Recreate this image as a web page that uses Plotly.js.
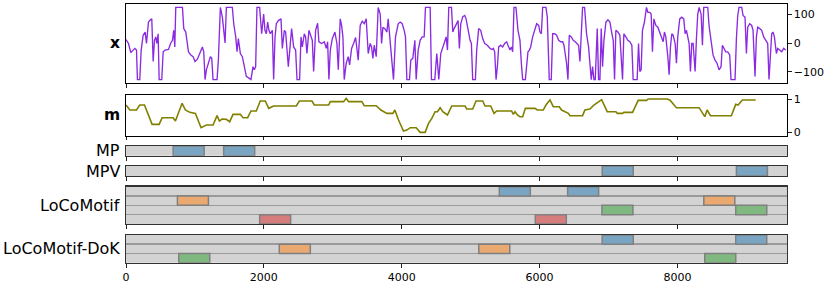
<!DOCTYPE html>
<html>
<head>
<meta charset="utf-8">
<script src="https://cdn.plot.ly/plotly-3.0.1.min.js"></script>
<style>html,body{margin:0;padding:0;background:#fff;}#chart{width:830px;height:286px;}</style>
</head>
<body>
<div id="chart"></div>
<script>
// ---- signal x ----
const sigX = [0,36,70,94,128,152,166,200,220,249,278,297,326,355,374,394,413,432,447,466,481,519,539,568,616,650,674,693,708,722,819,838,867,906,940,974,1002,1036,1070,1108,1128,1147,1166,1195,1224,1244,1263,1321,1340,1369,1398,1437,1456,1543,1563,1592,1611,1630,1659,1688,1717,1746,1784,1813,1843,1862,1881,1900,1939,1968,1997,2016,2036,2055,2074,2094,2123,2142,2162,2181,2210,2249,2268,2297,2316,2336,
2355,2403,2432,2461,2481,2519,2539,2558,2587,2606,2625,2654,2683,2703,2722,2751,2780,2799,2838,2877,2906,2925,2944,2964,2993,3031,3060,3080,3108,3128,3147,3166,3195,3224,3244,3273,3302,3331,3350,3369,3398,3427,3456,3485,3514,3543,3563,3582,3601,3630,3659,3688,3708,3727,3756,3785,3804,3823,3852,3881,3910,3949,3978,4007,4036,4055,4075,4113,4132,4161,4191,4210,4239,4268,4297,4326,4345,4413,4432,4480,4509,4538,4567,4596,4625,4645,4664,4683,4722,4741,
4760,4799,4818,4837,4857,4886,4915,4934,4963,4992,5011,5030,5069,5088,5117,5146,5175,5204,5243,5282,5311,5330,5349,5369,5388,5407,5436,5465,5494,5523,5542,5571,5591,5610,5629,5658,5687,5716,5736,5755,5794,5813,5832,5852,5871,5900,5929,5958,5987,6006,6026,6045,6093,6112,6141,6170,6190,6219,6248,6277,6306,6335,6354,6373,6392,6412,6431,6460,6489,6518,6547,6566,6586,6605,6624,6653,6682,6711,6731,6750,6769,6789,6808,6837,6856,6876,6895,6914,6934,6963,6992,7021,7050,7069,7088,7107,7136,
7165,7204,7223,7252,7281,7310,7339,7358,7416,7436,7455,7474,7493,7522,7551,7571,7600,7619,7638,7658,7687,7716,7745,7774,7793,7812,7832,7861,7880,7899,7919,7938,7967,7986,8005,8034,8063,8092,8112,8131,8150,8170,8189,8208,8228,8257,8276,8295,8315,8344,8363,8382,8440,8459,8488,8517,8546,8575,8604,8633,8653,8672,8701,8730,8759,8778,8836,8856,8875,8894,8933,8952,8981,9001,9020,9049,9078,9097,9126,9146,9165,9194,9223,9252,9281,9310,9329,9349,9368,9387,9407,9436,9455,9484,9513,9542,9571];
const sigY = [13,-1,-33,-26,-18,-24,-127,-127,-24,28,39,-1,74,82,85,-64,10,22,-1,33,-127,-127,-30,-24,-22,1,10,45,-13,125,125,51,39,-30,-41,-47,-64,-56,-36,-13,-30,-127,-93,-70,-47,-53,-127,-127,-59,125,91,1,125,125,68,22,-30,16,-36,-47,-76,-116,-122,-127,-82,-93,-82,125,125,33,102,45,33,74,45,33,45,-127,22,68,79,85,-18,45,39,-13,
-82,51,-13,-24,-127,-127,22,-13,33,22,-36,45,22,10,-99,45,70,5,-1,5,-18,5,-127,-24,16,39,-1,-93,85,62,22,-127,-70,-47,-76,-18,-1,20,-18,-59,62,77,68,85,-36,-1,-13,-53,-7,-47,125,102,-1,56,51,39,85,33,-24,-127,22,68,74,68,45,22,-127,-127,-59,-53,10,-127,-24,10,22,22,125,125,-127,-127,-36,-127,-36,-13,5,22,-24,125,125,39,
51,68,79,-18,68,93,97,85,39,10,-1,-127,-127,-24,51,45,16,-1,-7,-18,-22,-18,-30,-127,-82,-13,-7,-13,-1,5,-7,-24,-13,-30,125,125,45,10,-70,-127,-127,-59,-30,-24,-13,22,45,68,62,39,33,125,125,91,-127,-127,33,33,28,10,5,5,-7,-36,-70,-127,28,22,10,5,-1,-7,-64,33,125,125,33,-13,-59,-127,-82,-127,-127,51,-127,-127,51,-82,10,74,82,74,33,10,-127,45,39,
28,-127,33,22,10,5,-7,-127,-127,-1,-99,-93,45,74,125,108,108,102,-30,85,62,56,39,22,5,39,22,-47,-110,-13,33,28,-1,-70,22,85,91,85,33,45,22,-1,-99,-1,-1,-99,16,102,125,102,-7,125,125,62,10,-41,-59,-70,-93,-82,-7,-18,-30,-30,-41,-127,-127,16,97,125,125,97,91,-36,56,68,62,45,-116,22,56,51,45,22,10,-1,-127,-24,33,39,22,-36,-18,-24,-30,-18,-24];

// ---- m ----
const mX = [0,56,152,200,268,379,481,524,684,717,814,862,925,1007,1089,1166,1263,1321,1355,1393,1456,1504,1553,1659,1698,1765,1813,1890,1948,2021,2070,2142,2471,2515,2698,2732,2940,2964,3157,3195,3229,3422,3456,3630,3698,3785,3872,3901,3954,4026,4075,4123,4210,4268,4340,4389,4437,4485,4519,4558,4596,4664,4726,4919,4943,5030,5079,5175,5209,5291,5340,5378,5595,5620,5644,5678,5716,5755,5794,5934,5968,6054,6093,6151,6199,6286,6320,6368,6417,6441,6624,6658,6731,6779,6827,6866,6900,6982,7107,7127,7204,7223,7349,7431,7552,7576,7851,7890,7986,8315,8349,8397,8431,8480,8783,8846,8880,8943,9136];
const mY = [0.82,0.67,0.67,0.82,0.82,0.24,0.24,0.44,0.44,0.34,0.87,0.67,0.60,0.57,0.14,0.22,0.22,0.50,0.34,0.40,0.39,0.32,0.54,0.54,0.44,0.44,0.64,0.64,0.94,0.94,0.72,0.79,0.79,0.94,0.94,0.82,0.82,0.92,0.92,1.02,0.92,0.92,0.80,0.80,0.67,0.57,0.57,0.67,0.37,0.04,0.07,0.14,0.14,0.0,0.0,0.27,0.42,0.62,0.62,0.74,0.62,0.52,0.79,0.79,0.70,0.70,0.94,0.94,0.79,0.79,0.57,0.64,0.64,0.54,0.62,0.52,0.47,0.47,0.72,0.72,0.67,0.67,0.82,0.97,0.77,0.77,0.67,0.62,0.57,0.50,0.50,0.67,0.70,0.80,0.87,0.94,0.98,0.62,0.62,0.57,0.57,0.60,0.60,0.96,0.96,1.0,1.0,0.97,0.74,0.74,0.62,0.47,0.67,0.50,0.50,0.84,0.82,0.97,0.97];

// ---- motifs ----
const motifLength = 450;
const rowColors = ['#79a5c3', '#e9a970', '#80b980', '#d57d7d'];
const mpStarts = [684, 1417];          const mpRows = [0, 0];
const mpvStarts = [6909, 8856];        const mpvRows = [0, 0];
const lcStarts = [5416, 6407, 746, 8383, 6905, 8846, 1939, 5938];
const lcRows   = [0, 0, 1, 1, 2, 2, 3, 3];
const dokStarts = [6909, 8846, 2224, 5118, 765, 8397];
const dokRows   = [0, 0, 1, 1, 2, 2];

const xTicks = [0, 2000, 4000, 6000, 8000];
const labels = ['<b>x</b>', '<b>m</b>', 'MP', 'MPV', 'LoCoMotif', 'LoCoMotif-DoK'];

const W = 830, H = 286;
const xDom = [126 / W, 787 / W];
const pix = [[4, 83], [95, 135.7], [146, 155.7], [166, 176], [186.7, 224], [235, 262.7]];
const doms = pix.map(p => [1 - p[1] / H, 1 - p[0] / H]);

function barTrace(starts, rows, ax) {
  return {
    type: 'bar', orientation: 'h',
    base: starts, x: starts.map(() => motifLength), y: rows,
    width: rows.map(() => 1),
    marker: { color: rows.map(r => rowColors[r]), line: { color: '#808080', width: 1.5 } },
    xaxis: 'x' + ax, yaxis: 'y' + ax, showlegend: false, hoverinfo: 'skip'
  };
}

const data = [
  { type: 'scatter', mode: 'lines', x: sigX, y: sigY, line: { color: '#8a2be2', width: 1.35 }, xaxis: 'x', yaxis: 'y', showlegend: false },
  { type: 'scatter', mode: 'lines', x: mX, y: mY, line: { color: '#808000', width: 1.6 }, xaxis: 'x2', yaxis: 'y2', showlegend: false },
  barTrace(mpStarts, mpRows, 3),
  barTrace(mpvStarts, mpvRows, 4),
  barTrace(lcStarts, lcRows, 5),
  barTrace(dokStarts, dokRows, 6)
];

const font = { family: 'DejaVu Sans', size: 11, color: '#000' };
const layout = {
  width: W, height: H, margin: { l: 0, r: 0, t: 0, b: 0 },
  paper_bgcolor: '#fff', plot_bgcolor: '#fff', font: font,
  barmode: 'overlay', showlegend: false,
  shapes: [], annotations: []
};

const nRows = [1, 1, 1, 1, 4, 3];
const yRanges = [[-139, 137], [-0.1, 1.12]];
for (let i = 0; i < 6; i++) {
  const s = i === 0 ? '' : String(i + 1);
  const isBar = i >= 2;
  layout['xaxis' + s] = {
    domain: xDom, anchor: 'y' + s, range: [0, 9590],
    tickmode: 'array', tickvals: xTicks, ticktext: xTicks.map(String),
    ticks: 'outside', ticklen: 3.5, tickwidth: 1, tickcolor: '#222',
    showticklabels: i === 5, tickfont: font,
    showgrid: false, zeroline: false,
    showline: true, mirror: true, linecolor: isBar ? '#333' : '#000', linewidth: isBar ? 1.3 : 1
  };
  const ya = {
    domain: doms[i], anchor: 'x' + s, zeroline: false,
    showline: true, mirror: true, linecolor: isBar ? '#333' : '#000', linewidth: isBar ? 1.3 : 1
  };
  if (!isBar) {
    Object.assign(ya, {
      side: 'right', range: yRanges[i], ticks: 'outside', ticklen: 3.5, tickcolor: '#222',
      tickmode: 'array', tickvals: i === 0 ? [-100, 0, 100] : [0, 1],
      ticktext: i === 0 ? ['\u2212100', '0', '100'] : ['0', '1'],
      tickfont: font, showgrid: false
    });
  } else {
    const n = nRows[i];
    const gv = [];
    for (let k = 0; k < n - 1; k++) gv.push(k + 0.5);
    Object.assign(ya, {
      range: [n - 0.5, -0.5], ticks: '', showticklabels: false,
      tickmode: 'array', tickvals: gv, showgrid: gv.length > 0,
      gridcolor: '#9a9a9a', gridwidth: 1.5
    });
    layout.shapes.push({
      type: 'rect', xref: 'x' + s + ' domain', yref: 'y' + s + ' domain',
      x0: 0, x1: 1, y0: 0, y1: 1, fillcolor: '#d3d3d3', line: { width: 0 }, layer: 'below'
    });
  }
  layout['yaxis' + s] = ya;
  const yc = (doms[i][0] + doms[i][1]) / 2;
  layout.annotations.push({
    xref: 'paper', yref: 'paper', x: 122 / W, y: yc, xanchor: 'right', yanchor: 'middle',
    text: labels[i], showarrow: false,
    font: { family: 'DejaVu Sans', size: i < 2 ? 15.5 : 16, color: '#000' }
  });
}

Plotly.newPlot('chart', data, layout, { staticPlot: true, displayModeBar: false });
</script>
</body>
</html>
